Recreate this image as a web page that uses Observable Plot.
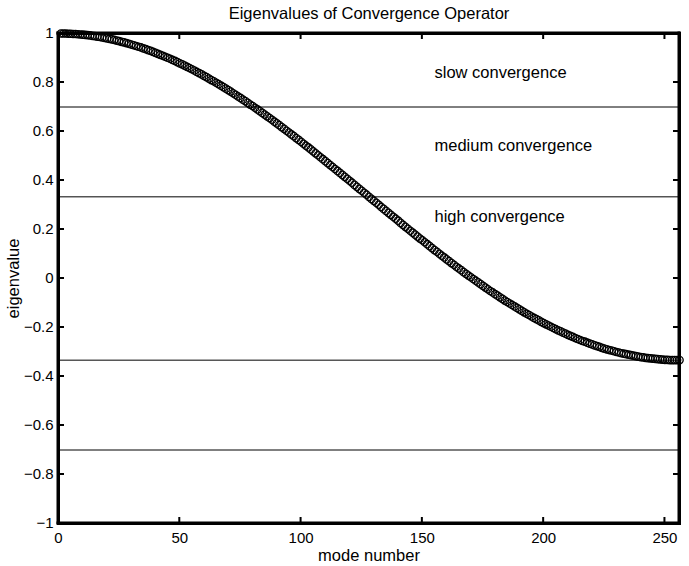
<!DOCTYPE html>
<html><head><meta charset="utf-8">
<script src="https://cdn.jsdelivr.net/npm/d3@7"></script>
<script src="https://cdn.jsdelivr.net/npm/@observablehq/plot@0.6"></script>
<style>body{margin:0;background:#fff}</style>
</head><body><div id="chart"></div>
<script>
// eigenvalue of each mode (mode number = position in list, starting at 1)
const eigenvalues = [
  1.000, 1.000, 1.000, 0.999, 0.999, 0.998, 0.998, 0.997, 0.996, 0.995,
  0.994, 0.993, 0.992, 0.990, 0.989, 0.987, 0.986, 0.984, 0.982, 0.980,
  0.978, 0.976, 0.974, 0.971, 0.969, 0.966, 0.964, 0.961, 0.958, 0.955,
  0.952, 0.949, 0.946, 0.943, 0.939, 0.936, 0.932, 0.929, 0.925, 0.921,
  0.917, 0.913, 0.909, 0.905, 0.901, 0.897, 0.892, 0.888, 0.883, 0.878,
  0.874, 0.869, 0.864, 0.859, 0.854, 0.849, 0.843, 0.838, 0.833, 0.827,
  0.822, 0.816, 0.810, 0.805, 0.799, 0.793, 0.787, 0.781, 0.775, 0.769,
  0.763, 0.756, 0.750, 0.743, 0.737, 0.730, 0.724, 0.717, 0.710, 0.704,
  0.697, 0.690, 0.683, 0.676, 0.669, 0.662, 0.655, 0.648, 0.640, 0.633,
  0.626, 0.618, 0.611, 0.603, 0.596, 0.588, 0.581, 0.573, 0.566, 0.558,
  0.550, 0.542, 0.535, 0.527, 0.519, 0.511, 0.503, 0.495, 0.487, 0.479,
  0.471, 0.463, 0.455, 0.447, 0.439, 0.431, 0.423, 0.415, 0.407, 0.399,
  0.391, 0.382, 0.374, 0.366, 0.358, 0.350, 0.342, 0.333,
  0.325, 0.317, 0.309, 0.301, 0.292, 0.284, 0.276, 0.268, 0.260, 0.252, 0.244, 0.236,
  0.227, 0.219, 0.211, 0.203, 0.195, 0.187, 0.179, 0.171, 0.163, 0.156,
  0.148, 0.140, 0.132, 0.124, 0.116, 0.109, 0.101, 0.093, 0.086, 0.078,
  0.071, 0.063, 0.056, 0.048, 0.041, 0.034, 0.026, 0.019, 0.012, 0.005,
  -0.002, -0.009, -0.016, -0.023, -0.030, -0.037, -0.044, -0.051, -0.057, -0.064,
  -0.070, -0.077, -0.083, -0.090, -0.096, -0.102, -0.108, -0.114, -0.120, -0.126,
  -0.132, -0.138, -0.144, -0.149, -0.155, -0.161, -0.166, -0.171, -0.177, -0.182,
  -0.187, -0.192, -0.197, -0.202, -0.207, -0.212, -0.216, -0.221, -0.225, -0.230,
  -0.234, -0.238, -0.243, -0.247, -0.251, -0.255, -0.258, -0.262, -0.266, -0.269,
  -0.273, -0.276, -0.279, -0.283, -0.286, -0.289, -0.292, -0.294, -0.297, -0.300,
  -0.302, -0.305, -0.307, -0.309, -0.311, -0.313, -0.315, -0.317, -0.319, -0.321,
  -0.322, -0.324, -0.325, -0.326, -0.327, -0.328, -0.329, -0.330, -0.331, -0.332,
  -0.332, -0.333, -0.333, -0.333, -0.333, -0.333
];
const modeNumbers = eigenvalues.map((_, i) => i + 1);

const thresholds = [0.7, 0.3333, -0.3333, -0.7];
const regionLabels = ["slow convergence", "medium convergence", "high convergence"];
const regionLabelY = [0.85, 0.55, 0.26];
const regionLabelX = 155;

const xTicks = [0, 50, 100, 150, 200, 250];
const yTicks = [-1, -0.8, -0.6, -0.4, -0.2, 0, 0.2, 0.4, 0.6, 0.8, 1];
const xDomain = [0, 256];
const yDomain = [-1, 1];

const titleText = "Eigenvalues of Convergence Operator";
const xLabelText = "mode number";
const yLabelText = "eigenvalue";

const W = 689, H = 566, ML = 58, MR = 10, MT = 33, MB = 43;
const TICK = 6;     // tick length, px
const BORDER = 1.5; // half of the box line thickness, px
const innerW = W - ML - MR, innerH = H - MT - MB;

const points = modeNumbers.map((m, i) => ({mode: m, value: eigenvalues[i]}));
const regionRows = regionLabels.map((t, i) => ({label: t, px: regionLabelX, py: regionLabelY[i]}));
const fmt = d3.format("");

// filled rectangles for the box edges and the inward ticks
const vEdges = xDomain.map(v => ({x: v}));
const hEdges = yDomain.map(v => ({y: v}));
const xTickRows = xTicks.map(v => ({x: v}));
const yTickRows = yTicks.map(v => ({y: v}));

const chart = Plot.plot({
  width: W,
  height: H,
  marginLeft: ML,
  marginRight: MR,
  marginTop: MT,
  marginBottom: MB,
  x: {domain: xDomain},
  y: {domain: yDomain},
  style: {fontFamily: "'Liberation Sans', Arial, Helvetica, sans-serif", fontSize: "15px", color: "black", background: "white"},
  marks: [
    Plot.ruleY(thresholds, {stroke: "black", strokeWidth: 1}),
    Plot.dot(points, {x: "mode", y: "value", r: 3.7, stroke: "black", strokeWidth: 1.3, fill: "none"}),
    Plot.text(regionRows, {x: "px", y: "py", text: "label", textAnchor: "start", lineAnchor: "middle", dy: 2, fontSize: 16.5, fill: "black"}),
    Plot.text([titleText], {text: d => d, frameAnchor: "top", textAnchor: "middle", lineAnchor: "middle", dy: -20, fontSize: 16.5, fill: "black"}),
    Plot.text([xLabelText], {text: d => d, frameAnchor: "bottom", textAnchor: "middle", lineAnchor: "middle", dy: 32, fontSize: 16.5, fill: "black"}),
    Plot.text([yLabelText], {text: d => d, frameAnchor: "left", textAnchor: "middle", lineAnchor: "middle", rotate: -90, dx: -45, fontSize: 16.5, fill: "black"}),
    Plot.axisX({ticks: xTicks, tickSize: 0, tickPadding: 9, tickFormat: fmt, label: null, fontSize: 15}),
    Plot.axisY({ticks: yTicks, tickSize: 0, tickPadding: 5, tickFormat: fmt, label: null, fontSize: 15}),
    // inward ticks (bottom, top, left, right) as small filled bars
    Plot.rect(xTickRows, {x1: "x", x2: "x", y1: yDomain[0], y2: yDomain[0], insetLeft: -1, insetRight: -1, insetTop: -TICK, fill: "black"}),
    Plot.rect(xTickRows, {x1: "x", x2: "x", y1: yDomain[1], y2: yDomain[1], insetLeft: -1, insetRight: -1, insetBottom: -TICK, fill: "black"}),
    Plot.rect(yTickRows, {y1: "y", y2: "y", x1: xDomain[0], x2: xDomain[0], insetTop: -1, insetBottom: -1, insetRight: -TICK, fill: "black"}),
    Plot.rect(yTickRows, {y1: "y", y2: "y", x1: xDomain[1], x2: xDomain[1], insetTop: -1, insetBottom: -1, insetLeft: -TICK, fill: "black"}),
    // box edges as filled bars
    Plot.rect(vEdges, {x1: "x", x2: "x", y1: yDomain[0], y2: yDomain[1], insetLeft: -BORDER, insetRight: -BORDER, insetTop: -BORDER, insetBottom: -BORDER, fill: "black"}),
    Plot.rect(hEdges, {y1: "y", y2: "y", x1: xDomain[0], x2: xDomain[1], insetLeft: -BORDER, insetRight: -BORDER, insetTop: -BORDER, insetBottom: -BORDER, fill: "black"}),
    Plot.frame({stroke: "black", strokeWidth: 3})
  ]
});
document.getElementById("chart").appendChild(chart);
</script>
</body></html>
